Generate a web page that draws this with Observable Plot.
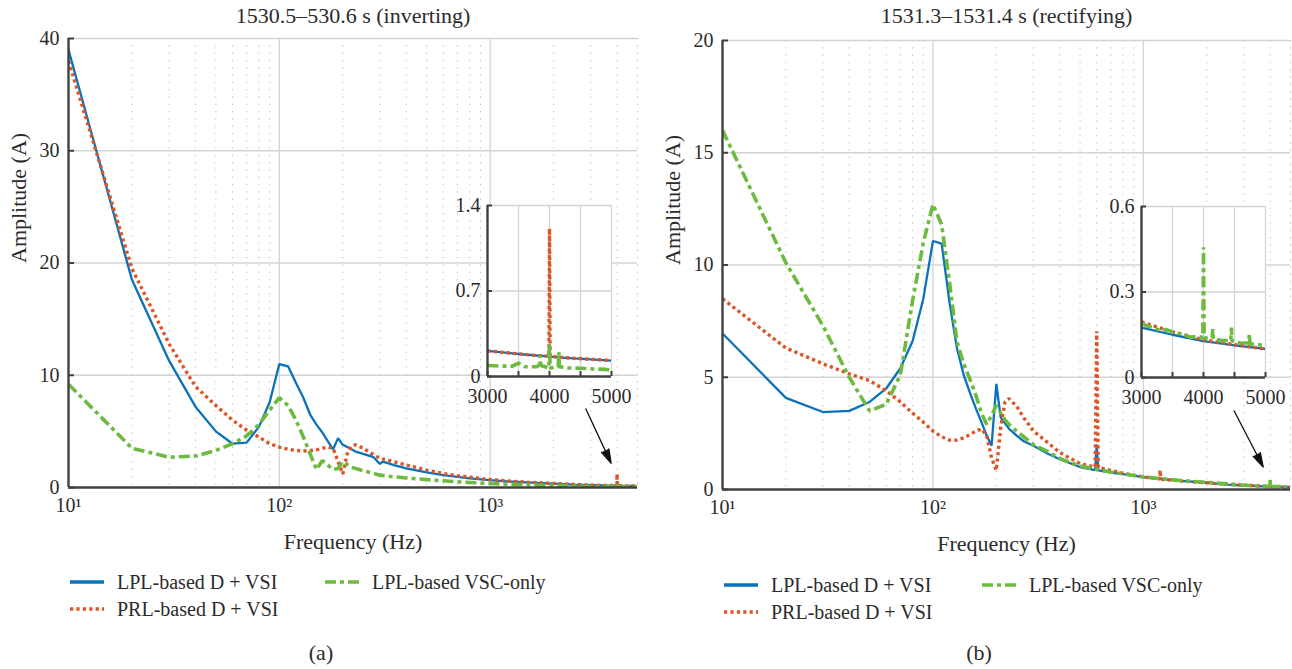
<!DOCTYPE html>
<html><head><meta charset="utf-8">
<script src="https://cdn.jsdelivr.net/npm/d3@7"></script>
<script src="https://cdn.jsdelivr.net/npm/@observablehq/plot@0.6"></script>
<style>
body{margin:0;background:#fff;}
#root{position:relative;width:1292px;height:669px;overflow:hidden;font-family:"Liberation Serif","DejaVu Serif",serif;color:#2b2b2b;}
.abs{position:absolute;}
.leg{position:absolute;display:flex;align-items:center;font-size:20px;white-space:nowrap;line-height:1;}
.leg svg{margin-right:13px;}
.cap{position:absolute;font-size:22px;transform:translate(-50%,-50%);}
#root svg, #root svg text, #root svg g{font-family:"Liberation Serif","DejaVu Serif",serif !important;}
</style></head><body><div id="root"></div><script>
// ---------------- data ----------------
const seriesNames = ["LPL-based D + VSI", "PRL-based D + VSI", "LPL-based VSC-only"];
const panelTitles = ["1530.5\u2013530.6 s (inverting)", "1531.3\u20131531.4 s (rectifying)"];
const xLabel = "Frequency (Hz)";
const yLabel = "Amplitude (A)";
const captions = ["(a)", "(b)"];

const xDomain = [10, 5000];
const xMajor = [10, 100, 1000];
const xMajorLabels = ["10\u00b9", "10\u00b2", "10\u00b3"];
const xMinor = [20,30,40,50,60,70,80,90,200,300,400,500,600,700,800,900,2000,3000,4000,5000];
const yTicksA = [0, 10, 20, 30, 40];
const yTicksB = [0, 5, 10, 15, 20];
const insetXTicks = [3000, 3500, 4000, 4500, 5000];
const insetXLabels = [3000, 4000, 5000];
const insetYTicksA = [0, 0.7, 1.4];
const insetYTicksB = [0, 0.3, 0.6];

// panel (a): [frequency Hz, amplitude A]
const lplA = [[10,39],[20,18.5],[30,11.3],[40,7.2],[50,5.0],[60,3.9],[70,4.0],[80,5.4],[90,7.6],[100,11.0],[110,10.8],[120,9.3],[130,8.0],[140,6.5],[150,5.6],[160,4.9],[170,4.1],[180,3.4],[190,4.4],[200,3.8],[210,3.6],[230,3.2],[250,3.0],[280,2.7],[300,2.1],[310,2.3],[350,2.0],[400,1.7],[500,1.35],[600,1.1],[700,0.95],[800,0.82],[1000,0.65],[1200,0.55],[1500,0.45],[2000,0.34],[2500,0.26],[3000,0.21],[3200,0.2],[3400,0.19],[3600,0.18],[3800,0.172],[3990,0.165],[4000,0.19],[4010,0.163],[4200,0.155],[4400,0.148],[4600,0.142],[4800,0.136],[5000,0.13]];
const prlA = [[10,38],[20,19.5],[30,12.8],[40,9.0],[50,7.3],[60,6.0],[70,5.1],[80,4.5],[90,3.9],[100,3.6],[110,3.4],[120,3.3],[130,3.25],[140,3.3],[150,3.35],[160,3.5],[170,3.6],[180,3.5],[190,2.3],[200,1.2],[210,3.0],[220,3.7],[230,3.8],[250,3.5],[270,3.1],[300,2.6],[350,2.3],[400,2.0],[500,1.55],[600,1.25],[700,1.05],[800,0.92],[1000,0.7],[1200,0.58],[1500,0.47],[2000,0.36],[2500,0.27],[3000,0.21],[3200,0.2],[3400,0.19],[3600,0.18],[3800,0.172],[3990,0.166],[4000,1.21],[4010,0.165],[4200,0.156],[4400,0.149],[4600,0.143],[4800,0.137],[5000,0.131]];
const vscA = [[10,9.2],[20,3.5],[30,2.7],[40,2.8],[50,3.3],[60,3.9],[70,4.6],[80,5.6],[90,6.9],[100,8.0],[110,7.3],[120,6.0],[130,4.5],[140,3.0],[150,1.6],[160,2.4],[170,2.0],[180,1.6],[190,1.7],[200,2.3],[220,1.8],[250,1.5],[300,1.1],[350,0.95],[400,0.85],[500,0.7],[600,0.6],[700,0.5],[800,0.45],[1000,0.36],[1200,0.3],[1500,0.24],[2000,0.18],[2500,0.13],[3000,0.09],[3200,0.085],[3400,0.085],[3500,0.11],[3600,0.08],[3800,0.08],[3840,0.1],[3850,0.17],[3860,0.09],[3990,0.07],[4000,0.27],[4010,0.07],[4140,0.08],[4150,0.2],[4160,0.08],[4300,0.07],[4500,0.068],[4700,0.062],[4900,0.058],[5000,0.05]];

// panel (b)
const lplB = [[10,6.95],[20,4.08],[30,3.45],[40,3.5],[50,3.9],[60,4.5],[70,5.4],[80,6.6],[90,8.5],[100,11.07],[110,10.95],[120,8.3],[130,6.3],[140,5.1],[150,4.3],[160,3.6],[170,3.0],[180,2.4],[190,1.95],[200,4.7],[210,3.2],[220,2.95],[230,2.7],[250,2.4],[270,2.15],[300,1.95],[350,1.6],[400,1.35],[500,1.0],[590,0.86],[600,2.0],[610,0.85],[700,0.75],[800,0.68],[1000,0.55],[1500,0.38],[2000,0.3],[2500,0.22],[3000,0.175],[3500,0.15],[4000,0.128],[4500,0.113],[5000,0.1]];
const prlB = [[10,8.5],[20,6.3],[30,5.6],[40,5.15],[50,4.85],[60,4.4],[70,3.9],[80,3.4],[90,3.0],[100,2.6],[110,2.35],[120,2.2],[130,2.2],[140,2.3],[150,2.45],[160,2.6],[170,2.7],[180,2.4],[190,1.4],[200,0.85],[210,2.8],[220,3.9],[230,4.05],[250,3.7],[270,3.2],[300,2.6],[350,2.1],[400,1.65],[500,1.15],[590,1.0],[600,7.05],[610,0.98],[700,0.85],[800,0.72],[1000,0.56],[1190,0.47],[1200,0.86],[1210,0.46],[1500,0.38],[2000,0.3],[2500,0.23],[3000,0.195],[3500,0.16],[4000,0.132],[4500,0.115],[5000,0.1]];
const vscB = [[10,16.0],[20,10.1],[30,7.3],[40,5.0],[50,3.5],[60,3.8],[70,5.1],[80,8.4],[90,11.0],[100,12.7],[110,11.8],[120,9.2],[130,6.6],[140,5.6],[150,4.9],[160,4.2],[170,3.4],[180,2.9],[190,3.3],[200,3.75],[210,3.4],[220,3.1],[230,2.9],[250,2.6],[270,2.35],[300,2.0],[350,1.7],[400,1.38],[500,1.05],[600,0.9],[700,0.78],[800,0.7],[1000,0.56],[1500,0.4],[2000,0.32],[2500,0.25],[3000,0.19],[3100,0.18],[3200,0.175],[3300,0.165],[3400,0.168],[3500,0.16],[3600,0.155],[3700,0.15],[3800,0.14],[3900,0.145],[3990,0.14],[4000,0.457],[4010,0.14],[4100,0.135],[4140,0.14],[4150,0.17],[4160,0.135],[4300,0.13],[4440,0.13],[4450,0.175],[4460,0.128],[4600,0.12],[4730,0.122],[4740,0.153],[4750,0.118],[4900,0.115],[5000,0.11]];

// annotation arrows (data coordinates)
const arrowA = [{x1: 2845, y1: 7.0, x2: 3750, y2: 2.15}];
const arrowB = [{x1: 2700, y1: 3.5, x2: 3710, y2: 1.0}];

// ---------------- styles ----------------
const FONT = '"Liberation Serif", "DejaVu Serif", serif';
const INK = "#2b2b2b", AXIS = "#404040", GRID = "#d4d4d4";
const CSS = `font-size:20px;color:${INK};background:transparent;overflow:visible;`;
const styles = [
  {stroke: "#0a72ba", strokeWidth: 2.3, strokeLinecap: "round"},
  {stroke: "#dd5526", strokeWidth: 3.4, strokeDasharray: "3.2,3.2", strokeLinecap: "butt"},
  {stroke: "#6cbb3f", strokeWidth: 3.6, strokeDasharray: "11,4,4,4", strokeLinecap: "butt"}
];
const T = {fill: INK, fontSize: 20};
const L = {fill: INK, fontSize: 22};

function lineMarks(series, filter) {
  return series.map((s, i) => Plot.line(filter ? s.filter(filter) : s,
    {x: d => d[0], y: d => d[1], ...styles[i], strokeLinejoin: "miter", clip: true}));
}

function mainPlot({series, yTicks, title, arrow, ml, mr, mt, mb}) {
  return Plot.plot({
    width: 646, height: 560, marginLeft: ml, marginRight: mr, marginTop: mt, marginBottom: mb,
    style: CSS,
    x: {type: "log", domain: xDomain},
    y: {domain: [0, yTicks[yTicks.length - 1]]},
    marks: [
      Plot.ruleX(xMinor, {stroke: "#bdbdbd", strokeDasharray: "1.3,6", strokeWidth: 1}),
      Plot.ruleX(xMajor.slice(1), {stroke: GRID, strokeWidth: 1.3}),
      Plot.ruleY(yTicks.slice(1), {stroke: GRID, strokeWidth: 1.3}),
      Plot.axisY(yTicks, {tickSize: 6, dx: 6, fill: "none", label: null, stroke: AXIS, strokeWidth: 2}),
      Plot.axisY(yTicks, {tickSize: 0, tickPadding: 9, label: null, ...T}),
      Plot.axisX(xMajor, {tickSize: 0, tickPadding: 10, label: null, ...T,
        tickFormat: d => xMajorLabels[xMajor.indexOf(d)]}),
      ...lineMarks(series),
      Plot.ruleX([xDomain[0]], {stroke: AXIS, strokeWidth: 2.4}),
      Plot.ruleY([0], {stroke: AXIS, strokeWidth: 2.4}),
      Plot.arrow(arrow, {x1: "x1", y1: "y1", x2: "x2", y2: "y2", stroke: "#111", fill: "#111",
        strokeWidth: 1.3, headAngle: 32, headLength: 17, strokeLinejoin: "miter"}),
      Plot.text([title], {frameAnchor: "top", lineAnchor: "middle", dy: -(mt - 15), ...L}),
      Plot.text([xLabel], {frameAnchor: "bottom", lineAnchor: "middle", dy: 54, ...L}),
      Plot.text([yLabel], {frameAnchor: "left", rotate: -90, dx: -50, ...L})
    ]
  });
}

function insetPlot({series, yTicks}) {
  const f = d => d[0] >= 3000;
  return Plot.plot({
    width: 179, height: 222, marginLeft: 40, marginRight: 15, marginTop: 10, marginBottom: 41,
    style: CSS,
    x: {domain: [3000, 5000]},
    y: {domain: [0, yTicks[yTicks.length - 1]]},
    marks: [
      Plot.frame({fill: "white", stroke: null}),
      Plot.ruleX(insetXTicks.slice(1), {stroke: GRID, strokeWidth: 1.3}),
      Plot.ruleY(yTicks.slice(1), {stroke: GRID, strokeWidth: 1.3}),
      Plot.axisX(insetXTicks, {tickSize: 5, dy: -5, fill: "none", label: null, stroke: AXIS, strokeWidth: 2}),
      Plot.axisX(insetXLabels, {tickSize: 0, tickPadding: 12, label: null, ...T, tickFormat: d => String(d)}),
      Plot.axisY(yTicks, {tickSize: 5, dx: 5, fill: "none", label: null, stroke: AXIS, strokeWidth: 2}),
      Plot.axisY(yTicks, {tickSize: 0, tickPadding: 7, label: null, ...T, tickFormat: d => String(d)}),
      ...lineMarks(series, f),
      Plot.ruleX([3000], {stroke: AXIS, strokeWidth: 2.4}),
      Plot.ruleY([0], {stroke: AXIS, strokeWidth: 2.4})
    ]
  });
}

const root = document.getElementById("root");
function place(el, left, top) {
  el.classList.add("abs"); el.style.left = left + "px"; el.style.top = top + "px";
  el.style.setProperty("font-family", FONT, "important");
  root.appendChild(el);
}

place(mainPlot({series: [lplA, prlA, vscA], yTicks: yTicksA, title: panelTitles[0], arrow: arrowA,
  ml: 68, mr: 9, mt: 38, mb: 73}), 0, 0);
place(mainPlot({series: [lplB, prlB, vscB], yTicks: yTicksB, title: panelTitles[1], arrow: arrowB,
  ml: 76, mr: 2, mt: 40, mb: 71}), 646, 0);
place(insetPlot({series: [lplA, prlA, vscA], yTicks: insetYTicksA}), 447, 195);
place(insetPlot({series: [lplB, prlB, vscB], yTicks: insetYTicksB}), 1101, 196);

// legends
function legendItem(i, left, cy) {
  const d = document.createElement("div");
  d.className = "leg";
  const s = styles[i];
  d.innerHTML = `<svg width="34" height="8"><line x1="0" x2="34" y1="4" y2="4" stroke="${s.stroke}" stroke-width="${Math.max(3.4, s.strokeWidth)}" ${s.strokeDasharray ? `stroke-dasharray="${s.strokeDasharray}"` : ""}/></svg><span>${seriesNames[i]}</span>`;
  d.style.left = left + "px"; d.style.top = (cy - 10) + "px"; d.style.height = "20px";
  root.appendChild(d);
}
legendItem(0, 70, 582); legendItem(2, 325, 582); legendItem(1, 70, 609);
legendItem(0, 724, 585); legendItem(2, 982, 585); legendItem(1, 724, 612);

captions.forEach((c, i) => {
  const d = document.createElement("div");
  d.className = "cap"; d.textContent = c;
  d.style.left = [321, 979][i] + "px"; d.style.top = "653px";
  root.appendChild(d);
});
</script></body></html>
